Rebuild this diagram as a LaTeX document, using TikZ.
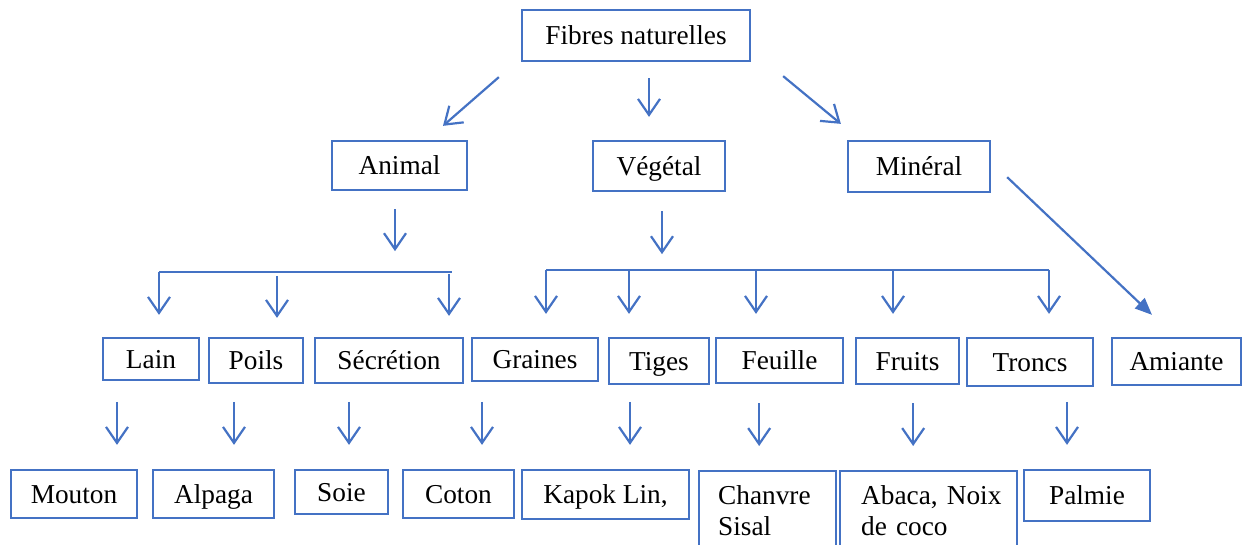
\documentclass[tikz,border=0pt]{standalone}
\usepackage{fontspec}
\setmainfont{Liberation Serif}
\usetikzlibrary{arrows.meta,calc}
\definecolor{bblue}{HTML}{4472C4}
\begin{document}
\begin{tikzpicture}[x=1pt,y=-1pt,
 box/.style={draw=bblue,line width=2.3pt,inner sep=0pt,font=\fontsize{27.3}{31}\selectfont,text=black},
 one/.style={box,text height=18.5pt,text depth=0pt},
 two/.style={box,align=left,anchor=north west},
 arr/.style={draw=bblue,line width=2.2pt,-{Straight Barb[length=16pt,width=22pt]}},
 arrb/.style={draw=bblue,line width=2.2pt,-{Triangle[length=17pt,width=14pt]}},
 link/.style={draw=bblue,line width=1.6pt}]
\useasboundingbox (0,0) rectangle (1242,544);
% level 0
\node[one,minimum width=228pt,minimum height=51pt] (fn) at (636,35.5) {Fibres naturelles};
% level 1
\node[one,minimum width=135pt,minimum height=49pt] (animal) at (399.5,165.5) {Animal};
\node[one,minimum width=132pt,minimum height=50pt] (veg) at (659,166) {Végétal};
\node[one,minimum width=142pt,minimum height=51pt] (min) at (919,166.5) {Minéral};
% level 2
\node[one,minimum width=96pt,minimum height=42pt] (lain) at (151,359) {Lain};
\node[one,minimum width=94pt,minimum height=45pt] (poils) at (256,360.5) {Poils};
\node[one,minimum width=148pt,minimum height=45pt] (secr) at (389,360.5) {Sécrétion};
\node[one,minimum width=126pt,minimum height=43pt] (graines) at (535,359.5) {Graines};
\node[one,minimum width=100pt,minimum height=46pt] (tiges) at (659,361) {Tiges};
\node[one,minimum width=127pt,minimum height=45pt] (feuille) at (779.5,360.5) {Feuille};
\node[one,minimum width=103pt,minimum height=46pt] (fruits) at (907.5,361) {Fruits};
\node[one,minimum width=126pt,minimum height=48pt] (troncs) at (1030,362) {Troncs};
\node[one,minimum width=129pt,minimum height=47pt] (amiante) at (1176.5,361.5) {Amiante};
% level 3
\node[one,minimum width=126pt,minimum height=48pt] (mouton) at (74,494) {Mouton};
\node[one,minimum width=121pt,minimum height=48pt] (alpaga) at (213.5,494) {Alpaga};
\node[one,minimum width=93pt,minimum height=44pt] (soie) at (341.5,492) {Soie};
\node[one,minimum width=111pt,minimum height=48pt] (coton) at (458.5,494) {Coton};
\node[one,minimum width=167pt,minimum height=49pt] (kapok) at (605.5,494.5) {Kapok Lin,};
\node[two,minimum width=137pt,minimum height=79pt,text width=99pt,inner xsep=19pt] (chanvre) at (698,470) {Chanvre\\Sisal};
\node[two,minimum width=177pt,minimum height=79pt,text width=135pt,inner xsep=21pt] (abaca) at (839,470) {Abaca,~Noix\\de coco};
\node[one,minimum width=126pt,minimum height=51pt] (palmie) at (1087,495.5) {Palmie};
% top arrows
\draw[arr] ([shift={(-22,15)}]fn.south west) -- ([shift={(43.5,-14)}]animal.north);
\draw[arr] ([shift={(13,16)}]fn.south) -- ([shift={(-10,-23)}]veg.north);
\draw[arr] ([shift={(32,14)}]fn.south east) -- ([shift={(-6,-16)}]min.north west);
% animal
\draw[arr] ([shift={(-4.5,18)}]animal.south) -- ([shift={(-4.5,60)}]animal.south);
\draw[link] ([shift={(8,-65)}]lain.north) -- ([shift={(63,-65)}]secr.north);
\draw[arr] ([shift={(8,-65)}]lain.north) -- ([shift={(8,-22)}]lain.north);
\draw[arr] ([shift={(21,-61)}]poils.north) -- ([shift={(21,-19)}]poils.north);
\draw[arr] ([shift={(60,-63)}]secr.north) -- ([shift={(60,-21)}]secr.north);
% vegetal
\draw[arr] ([shift={(3,19)}]veg.south) -- ([shift={(3,62)}]veg.south);
\draw[link] ([shift={(11,-67)}]graines.north) -- ([shift={(19,-67)}]troncs.north);
\draw[arr] ([shift={(11,-67)}]graines.north) -- ([shift={(11,-23)}]graines.north);
\draw[arr] ([shift={(-30,-67)}]tiges.north) -- ([shift={(-30,-23)}]tiges.north);
\draw[arr] ([shift={(-23.5,-67)}]feuille.north) -- ([shift={(-23.5,-23)}]feuille.north);
\draw[arr] ([shift={(-14.5,-67)}]fruits.north) -- ([shift={(-14.5,-23)}]fruits.north);
\draw[arr] ([shift={(19,-67)}]troncs.north) -- ([shift={(19,-23)}]troncs.north);
% mineral
\draw[arrb] ([shift={(16,-16)}]min.south east) -- ([shift={(-24.5,-22)}]amiante.north);
% level 3 arrows
\draw[arr] ([shift={(43,-67)}]mouton.north) -- ([shift={(43,-24)}]mouton.north);
\draw[arr] ([shift={(20.5,-67)}]alpaga.north) -- ([shift={(20.5,-24)}]alpaga.north);
\draw[arr] ([shift={(7.5,-67)}]soie.north) -- ([shift={(7.5,-24)}]soie.north);
\draw[arr] ([shift={(23.5,-67)}]coton.north) -- ([shift={(23.5,-24)}]coton.north);
\draw[arr] ([shift={(24.5,-67)}]kapok.north) -- ([shift={(24.5,-24)}]kapok.north);
\draw[arr] ([shift={(-8.5,-67)}]chanvre.north) -- ([shift={(-8.5,-24)}]chanvre.north);
\draw[arr] ([shift={(-15.5,-67)}]abaca.north) -- ([shift={(-15.5,-24)}]abaca.north);
\draw[arr] ([shift={(-20,-67)}]palmie.north) -- ([shift={(-20,-24)}]palmie.north);
\end{tikzpicture}
\end{document}
